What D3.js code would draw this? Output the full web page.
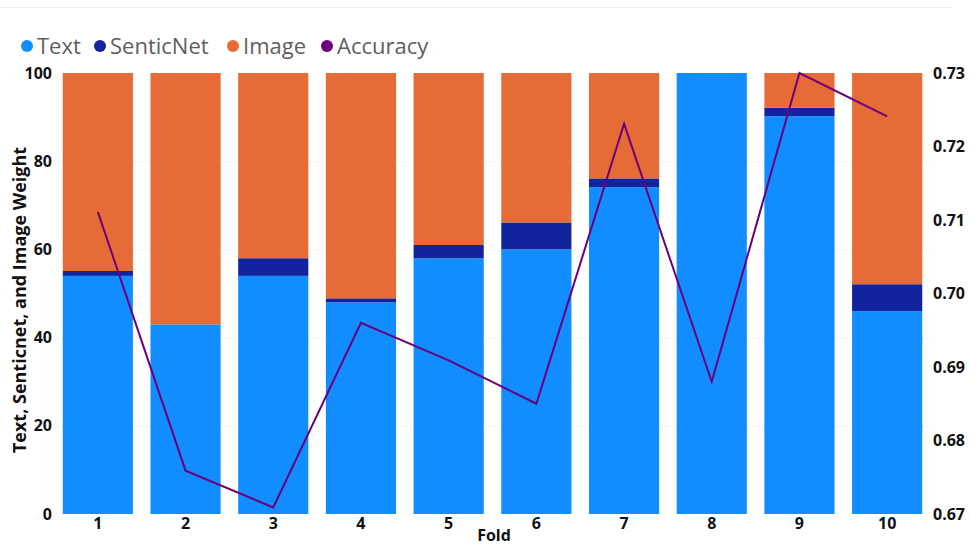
<!DOCTYPE html>
<html>
<head>
<meta charset="utf-8">
<script src="https://cdn.jsdelivr.net/npm/d3@7"></script>
<style>
  html, body { margin: 0; padding: 0; background: #fff; }
  svg { display: block; font-family: "Open Sans", "Noto Sans", sans-serif; }
</style>
</head>
<body>
<svg id="chart" width="970" height="547"></svg>
<script>
const folds = ["1","2","3","4","5","6","7","8","9","10"];
const textW = [54, 43, 54, 48, 58, 60, 74.1, 100, 90.2, 46];
const senticW = [1.1, 0, 4, 0.9, 3, 6.1, 2, 0, 1.9, 6.1];
const imageW = folds.map((f, i) => 100 - textW[i] - senticW[i]);
const accuracy = [0.7111, 0.6759, 0.6709, 0.6960, 0.6909, 0.6850, 0.7231, 0.6880, 0.7300, 0.7241];
const leftTicks = [0, 20, 40, 60, 80, 100];
const rightTicks = [0.67, 0.68, 0.69, 0.70, 0.71, 0.72, 0.73];
const seriesNames = ["Text", "SenticNet", "Image", "Accuracy"];
const colors = {Text: "#118DFF", SenticNet: "#12239E", Image: "#E66C37", Accuracy: "#6B007B"};

(function () {
const svg = d3.select("#chart");
const mTop = 73, mBottom = 514, mLeft = 54, mRight = 931;

const x = d3.scaleBand().domain(folds).range([mLeft, mRight]).paddingInner(0.2).paddingOuter(0.1);
const y = d3.scaleLinear().domain([0, 100]).range([mBottom, mTop]);
const y2 = d3.scaleLinear().domain([0.67, 0.73]).range([mBottom, mTop]);

// top separator line
svg.append("line").attr("x1", 0).attr("x2", 952).attr("y1", 7.5).attr("y2", 7.5)
  .attr("stroke", "#ececec").attr("stroke-width", 1);

// gridlines
svg.append("g").selectAll("line").data(leftTicks.filter(t => t > 0 && t < 100)).join("line")
  .attr("x1", mLeft).attr("x2", mRight)
  .attr("y1", d => y(d) + 0.5).attr("y2", d => y(d) + 0.5)
  .attr("stroke", "#d8d8d8").attr("stroke-dasharray", "1,3");

// stacked bars
const rows = folds.map((f, i) => ({fold: f, Text: textW[i], SenticNet: senticW[i], Image: imageW[i]}));
const stack = d3.stack().keys(["Text", "SenticNet", "Image"])(rows);
svg.append("g").selectAll("g").data(stack).join("g")
  .attr("fill", d => colors[d.key])
  .selectAll("rect").data(d => d).join("rect")
  .attr("x", d => x(d.data.fold))
  .attr("width", x.bandwidth())
  .attr("y", d => y(d[1]))
  .attr("height", d => Math.max(0, y(d[0]) - y(d[1])));

// accuracy line
const line = d3.line().x((d, i) => x(folds[i]) + x.bandwidth() / 2).y(d => y2(d));
svg.append("path").datum(accuracy).attr("d", line)
  .attr("fill", "none").attr("stroke", colors.Accuracy).attr("stroke-width", 2)
  .attr("stroke-linejoin", "miter");

// left axis
const gl = svg.append("g").attr("transform", `translate(${mLeft},0)`)
  .call(d3.axisLeft(y).tickValues(leftTicks).tickSize(0).tickPadding(0));
gl.select(".domain").remove();
gl.selectAll("text").attr("font-size", 16).attr("font-weight", 700).attr("fill", "#111")
  .attr("font-family", "'Open Sans', sans-serif").attr("dx", -2);

// right axis
const gr = svg.append("g").attr("transform", `translate(${mRight},0)`)
  .call(d3.axisRight(y2).tickValues(rightTicks).tickFormat(d3.format(".2f")).tickSize(0).tickPadding(0));
gr.select(".domain").remove();
gr.selectAll("text").attr("font-size", 16).attr("font-weight", 700).attr("fill", "#111")
  .attr("font-family", "'Open Sans', sans-serif").attr("dx", 2);

// x axis
const gx = svg.append("g").attr("transform", `translate(0,${mBottom})`)
  .call(d3.axisBottom(x).tickSize(0).tickPadding(4));
gx.select(".domain").remove();
gx.selectAll("text").attr("font-size", 16).attr("font-weight", 700).attr("fill", "#111")
  .attr("font-family", "'Open Sans', sans-serif");

// axis titles
svg.append("text").attr("transform", `translate(26,300) rotate(-90)`)
  .attr("text-anchor", "middle").attr("font-size", 18).attr("font-weight", 700).attr("fill", "#111")
  .text("Text, Senticnet, and Image Weight");
svg.append("text").attr("x", 494).attr("y", 541).attr("text-anchor", "middle")
  .attr("font-size", 16).attr("font-weight", 700).attr("fill", "#111").text("Fold");

// legend
const legendX = [27, 100, 233, 327];
const lg = svg.append("g");
seriesNames.forEach((n, i) => {
  lg.append("circle").attr("cx", legendX[i]).attr("cy", 46).attr("r", 6).attr("fill", colors[n]);
  lg.append("text").attr("x", legendX[i] + 10).attr("y", 54).attr("font-size", 22)
    .attr("fill", "#605E5C").attr("font-family", "'Open Sans', sans-serif").text(n);
});
})();
</script>
</body>
</html>
